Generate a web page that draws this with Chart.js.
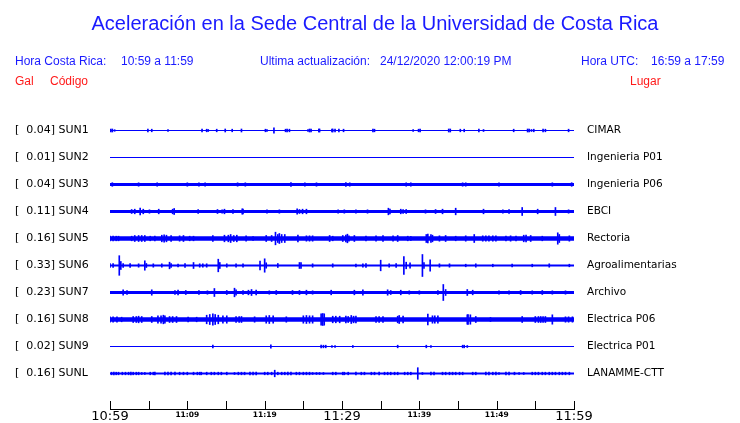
<!DOCTYPE html>
<html>
<head>
<meta charset="utf-8">
<script src="https://cdn.jsdelivr.net/npm/chart.js@4/dist/chart.umd.min.js"></script>
<style>
  body { margin: 0; background: #fff; }
  #wrap { position: relative; width: 740px; height: 423px; }
  #chart { position: absolute; left: 0; top: 0; }
  .txt { position: absolute; font-family: "Liberation Sans", Arial, sans-serif; font-size: 12px; line-height: 14px; white-space: pre; color: #1a1aff; }
  .red { color: #ff1a1a; }
  #title { left: 0; width: 750px; top: 11px; text-align: center; font-size: 20px; line-height: 24px; }
</style>
</head>
<body>
<div id="wrap">
  <canvas id="chart" width="740" height="423"></canvas>
  <div class="txt" id="title">Aceleración en la Sede Central de la Universidad de Costa Rica</div>
  <div class="txt" style="left:15px;top:54px">Hora Costa Rica:</div>
  <div class="txt" style="left:121px;top:54px">10:59 a 11:59</div>
  <div class="txt" style="left:260px;top:54px">Ultima actualización:</div>
  <div class="txt" style="left:380px;top:54px">24/12/2020 12:00:19 PM</div>
  <div class="txt" style="left:581px;top:54px">Hora UTC:</div>
  <div class="txt" style="left:651px;top:54px">16:59 a 17:59</div>
  <div class="txt red" style="left:15px;top:74px">Gal</div>
  <div class="txt red" style="left:50px;top:74px">Código</div>
  <div class="txt red" style="left:630px;top:74px">Lugar</div>
</div>
<script>
// stations, top to bottom
const stations = ['SUN1', 'SUN2', 'SUN3', 'SUN4', 'SUN5', 'SUN6', 'SUN7', 'SUN8', 'SUN9', 'SUNL'];
const peakGal = [0.04, 0.01, 0.04, 0.11, 0.16, 0.33, 0.23, 0.16, 0.02, 0.16];
const places = ['CIMAR', 'Ingenieria P01', 'Ingenieria P06', 'EBCI', 'Rectoria', 'Agroalimentarias', 'Archivo', 'Electrica P06', 'Electrica P01', 'LANAMME-CTT'];
const tickLabels = ['10:59', '11:09', '11:19', '11:29', '11:39', '11:49', '11:59'];

// background noise level of each trace (half amplitude)
const noiseLevel = [0.6, 0.5, 1.5, 1.4, 2.3, 1.1, 1.5, 2.3, 0.5, 0.9];

// bursts: [minute after 10:59, half amplitude]
const sun1 = [[0.1,1.5],[0.3,1.5],[0.6,0.8],[4.9,1.3],[5.4,1.3],[7.5,0.8],[11.9,1.3],[12.5,1.3],[12.7,1],[13.8,1.3],[14.9,1.5],[15.8,1.3],[17.0,1.5],[20.1,1.3],[20.3,1],[21.2,2.7],[22.7,1.3],[22.9,1.3],[23.2,1.3],[25.6,1],[25.8,1.5],[26.0,1.5],[27.0,1.5],[27.1,1.5],[28.7,1.5],[28.8,1.5],[29.1,1.3],[29.6,1.3],[30.2,1.3],[34.0,1.5],[34.2,1.3],[39.2,1],[39.9,1.3],[40.1,1.3],[43.8,1.5],[44.0,1.5],[45.3,1.3],[45.8,1.3],[47.7,1.3],[48.3,1],[52.2,1.3],[54.0,1.5],[54.2,1.5],[54.5,1],[54.8,1.3],[56.0,1.3],[56.3,1.3],[59.3,1.3]];
const sun2 = [];
const sun3 = [[0.3,1.8],[3.7,1.7],[6.1,1.7],[10.0,1.7],[11.5,1.7],[12.3,1.7],[16.5,1.7],[17.5,1.7],[23.4,1.8],[25.2,1.7],[26.7,1.7],[30.5,1.8],[31.0,1.7],[38.3,1.7],[38.9,1.7],[45.6,1.7],[46.0,1.7],[50.3,1.7],[57.2,1.7],[59.7,1.8]];
const sun4 = [[2.8,2],[3.2,2.3],[3.9,3.3],[4.3,2.3],[5.1,1.7],[6.3,2.3],[8.1,2.3],[8.3,3],[11.4,2],[13.9,2],[14.5,1.7],[14.8,2.3],[15.9,2],[17.1,2.7],[17.2,2.3],[20.3,1.7],[21.9,1.7],[24.2,2.7],[24.5,2],[24.9,2.3],[25.4,2.3],[29.5,1.7],[30.3,1.7],[31.8,1.7],[33.3,1.7],[36.0,3.3],[36.2,2.3],[37.6,2.3],[37.9,2],[38.3,2],[40.8,1.7],[42.1,2],[43.0,2.3],[44.7,3.3],[48.3,2.3],[50.8,1.7],[51.6,2],[53.3,4],[55.3,2.3],[57.6,4],[59.3,1.7]];
const sun5 = [[0,2.3],[0.4,2.3],[0.8,2.3],[1.1,2.3],[2.8,2.3],[3.2,3],[3.7,3],[4.1,3],[4.5,3],[5.2,2.3],[5.8,2.3],[6.7,3.3],[7.0,3.7],[7.3,3.3],[7.9,3],[9.0,2.7],[9.5,3],[10.3,2.3],[10.8,2.3],[13.3,3],[14.8,3.3],[15.3,3.3],[15.6,4],[16.0,3],[16.4,3.3],[17.6,2.7],[18.5,2],[20.2,3],[20.9,3],[21.4,6.3],[21.7,4],[21.9,5],[22.2,4],[22.6,4],[24.3,3.3],[25.4,2.7],[25.8,2.7],[26.2,2.7],[28.4,3],[28.8,2.3],[30.1,3],[30.5,3.3],[30.7,4.3],[30.9,2.7],[31.6,3],[33.1,2.3],[34.4,2.7],[35.3,3],[36.6,2.7],[37.2,3],[38.5,2.3],[38.9,2],[40.9,4],[41.1,4.3],[41.5,4],[41.7,3.3],[42.6,2.7],[43.4,3],[44.7,2.3],[46.0,2.7],[47.1,4],[48.2,2.7],[48.6,2.7],[49.0,2.7],[49.5,2.7],[49.9,2.7],[51.2,2.3],[51.8,2.7],[52.5,2.3],[53.5,3.3],[53.8,3.3],[54.4,3],[55.9,2.3],[57.9,5.7],[58.1,4],[59.4,2.7]];
const sun6 = [[0,2],[0.4,2],[1.2,9.8],[1.4,4],[1.7,2],[2.6,2],[3.7,1.7],[4.5,4.7],[4.7,2],[5.6,1.7],[6.7,1.7],[7.7,3.3],[7.9,2],[8.8,1.3],[9.7,2],[10.8,3],[11.6,1.7],[12.0,1.7],[12.5,1.7],[14.0,6.3],[14.2,3],[15.1,1.7],[16.3,1.7],[17.2,1.7],[19.4,4.3],[20.0,6.7],[20.2,2.7],[21.7,2],[24.5,3],[24.7,3],[26.2,1.7],[28.8,1.7],[31.8,1.3],[32.7,1.7],[33.1,2],[35.0,5.3],[36.1,1.7],[37.0,2],[38.0,9],[38.3,3.3],[38.8,2.7],[40.4,11],[40.6,3],[41.4,5.7],[42.6,1.7],[43.9,1.7],[46.0,1.3],[47.3,1.7],[49.5,1.3],[52.0,1.3],[54.6,1.3],[56.8,1.7],[59.4,1.3]];
const sun7 = [[1.7,2.7],[2.2,2],[5.4,2.7],[8.4,2],[8.8,2.3],[9.8,2],[11.5,2],[12.6,1.7],[13.5,4],[15.1,2],[16.1,4.3],[16.3,2.7],[17.2,2],[17.9,2.3],[18.3,3],[18.9,2.3],[20.6,1.7],[21.5,2],[23.6,2],[24.5,2],[25.4,2.3],[26.2,1.7],[28.6,2.3],[31.6,2.3],[32.7,2.7],[35.9,2.7],[36.3,2],[37.6,2.3],[38.7,1.7],[40.0,1.7],[42.4,2],[43.1,8],[43.4,3],[46.2,3],[46.9,2.3],[50.3,1.7],[51.6,1.7],[53.1,2],[54.6,1.7],[55.9,2],[57.2,1.7],[58.9,1.7]];
const sun8 = [[0,2.7],[0.4,2.7],[0.9,2.7],[1.5,2.3],[3.0,3],[3.4,3],[3.7,3.3],[4.1,3],[5.4,3],[6.2,3.7],[6.6,3.7],[6.9,4.3],[7.1,3.7],[7.7,3],[8.1,3],[8.6,3],[10.1,2.3],[11.2,2.3],[12.5,4.3],[12.9,5],[13.3,5.7],[13.6,5],[14.0,4.3],[14.6,3.7],[15.1,3.7],[16.3,3],[16.7,3],[17.0,3],[18.7,2.7],[20.2,3.7],[20.6,4],[21.1,3.7],[22.8,2.7],[25.0,3.7],[25.4,4],[25.8,3.7],[26.2,3.7],[27.3,5.7],[27.5,6],[27.7,5.7],[28.8,3.3],[29.2,3.3],[29.7,3.3],[30.5,3.3],[30.8,3],[31.2,4],[31.5,3.3],[31.8,3.3],[34.4,3],[34.8,3],[35.3,3],[37.2,3.3],[37.4,4],[37.9,3.3],[41.1,5.3],[41.7,3.7],[42.0,3.7],[42.4,3.7],[46.2,4.7],[46.3,5],[46.6,4.7],[47.3,3],[49.2,2],[53.3,3],[55.0,3],[55.4,3],[55.7,3],[56.0,3],[56.3,3],[57.2,4.7],[58.9,2.7],[59.3,2.7],[59.8,2.7]];
const sun9 = [[13.3,1.3],[20.8,1.7],[27.3,1.3],[27.6,1.3],[27.9,1.3],[28.7,1],[29.1,1],[31.4,1],[37.2,1.3],[40.9,1.3],[41.5,1],[45.6,1.3],[45.8,1.3],[46.2,1]];
const sunL = [[0.2,1.3],[0.5,1.3],[0.8,1.3],[1.1,1.3],[1.6,1.3],[2.0,1.3],[2.4,1.3],[2.7,1.3],[3.0,1.3],[3.4,1.3],[3.7,1.3],[4.1,1],[4.5,1],[5.2,1.3],[5.6,1.3],[5.8,1.3],[7.1,1.3],[7.5,1.3],[7.9,1.3],[8.4,1.3],[9.0,1.3],[9.5,1.3],[10.0,1.3],[10.8,1.3],[11.3,1.3],[11.6,1.3],[11.8,1.3],[12.5,1.3],[13.1,1.3],[13.5,1.3],[14.0,1.3],[14.4,1.3],[15.1,1.3],[16.1,1],[16.6,1.3],[17.0,1.3],[17.4,1.3],[18.1,1.3],[18.5,1.3],[18.9,1.3],[20.0,1.3],[20.4,1.3],[20.9,1.3],[21.3,3.3],[21.7,1.3],[22.2,1.3],[22.6,1.3],[23.0,1.3],[23.4,1.3],[24.1,1.3],[24.5,1.3],[25.0,1.3],[25.4,1.3],[25.8,1.3],[26.2,1],[26.7,1],[27.1,1],[27.6,1],[28.8,1.3],[29.2,1.3],[30.1,1.3],[30.3,1.3],[30.8,1.3],[31.8,1.3],[32.5,1.3],[32.9,1.3],[33.8,1.3],[34.2,1.3],[34.8,1.3],[35.5,1.3],[35.9,1.3],[36.3,1.3],[36.8,1.3],[37.2,1.3],[38.1,1.3],[38.5,1.3],[38.9,1.3],[39.8,5.8],[40.4,1],[41.5,1.3],[41.9,1.3],[43.0,1.3],[43.4,1.3],[43.9,1.3],[44.3,1.3],[44.7,1.3],[45.2,1.3],[45.6,1.3],[46.9,1.3],[47.3,1.3],[48.6,1.3],[49.0,1.3],[49.5,1.3],[49.9,1.3],[50.3,1],[51.2,1.3],[51.6,1.3],[52.3,1.3],[52.9,1],[53.5,1],[54.6,1.3],[55.0,1.3],[55.4,1.3],[55.9,1.3],[56.3,1.3],[56.8,1.3],[57.2,1.3],[57.6,1.3],[58.1,1.3],[58.5,1.3],[58.9,1.3],[59.4,1.3]];
const bursts = [sun1, sun2, sun3, sun4, sun5, sun6, sun7, sun8, sun9, sunL];

const BLUE = '#0000ff';
const rowGap = 27;       // trace separation, same units as amplitude
const axisGap = 36;      // last trace to time axis
const spanMin = 60;

Chart.defaults.font.family = 'DejaVu Sans';

const datasets = [];
stations.forEach((s, i) => {
  const row = i * rowGap;
  datasets.push({
    type: 'line',
    data: [{ x: 0, y: row }, { x: spanMin, y: row }],
    borderColor: BLUE,
    borderWidth: noiseLevel[i] * 2,
    borderCapStyle: 'butt',
    pointRadius: 0,
  });
});
datasets.push({
  type: 'bar',
  data: bursts.flatMap((set, i) => set.map(([t, a]) => ({ x: t, y: [i * rowGap - a, i * rowGap + a] }))),
  backgroundColor: BLUE,
  borderWidth: 0,
  barThickness: 1,
});

const rowTicks = (scale) => { scale.ticks = stations.map((s, i) => ({ value: i * rowGap })); };
const yMin = -rowGap - 0.5;
const yMax = (stations.length - 1) * rowGap + axisGap - 0.5;

// small tick marks pointing up from the time axis
const upTicks = {
  id: 'upTicks',
  afterDraw(chart) {
    const xs = chart.scales.x;
    const c = chart.ctx;
    c.save();
    c.strokeStyle = '#000';
    c.lineWidth = 1;
    c.beginPath();
    xs.ticks.forEach((t) => {
      const px = Math.round(xs.getPixelForValue(t.value)) + 0.5;
      c.moveTo(px, xs.top);
      c.lineTo(px, xs.top - 8);
    });
    c.stroke();
    c.restore();
  },
};

new Chart(document.getElementById('chart').getContext('2d'), {
  type: 'bar',
  data: { datasets },
  plugins: [upTicks],
  options: {
    responsive: false,
    animation: false,
    devicePixelRatio: 1,
    layout: { padding: { top: 103, left: 15, right: 0, bottom: 0 } },
    plugins: { legend: { display: false }, tooltip: { enabled: false } },
    scales: {
      x: {
        type: 'linear',
        min: 0,
        max: spanMin,
        offset: false,
        grid: { display: false, drawTicks: false },
        border: { display: true, color: '#000', width: 1 },
        ticks: {
          stepSize: 5,
          autoSkip: false,
          maxRotation: 0,
          padding: 0,
          color: '#000',
          callback: (v) => (v % 10 === 0 ? tickLabels[v / 10] : ''),
          font: (c) => (c.tick && c.tick.value % 30 === 0
            ? { family: 'DejaVu Sans', size: 13, lineHeight: 1.2 }
            : { family: 'DejaVu Sans', size: 7.5, weight: 'bold', lineHeight: 1.6 }),
        },
        afterFit: (s) => { s.height = 14; },
      },
      y: {
        type: 'linear',
        position: 'left',
        reverse: true,
        min: yMin,
        max: yMax,
        grid: { display: false, drawTicks: false },
        border: { display: false },
        afterBuildTicks: rowTicks,
        ticks: {
          crossAlign: 'far',
          color: '#000',
          font: { size: 11 },
          callback: (v, i) => '[  ' + peakGal[i].toFixed(2) + '] ' + stations[i],
        },
        afterFit: (s) => { s.width = 95; },
      },
      y2: {
        type: 'linear',
        position: 'right',
        reverse: true,
        min: yMin,
        max: yMax,
        grid: { display: false, drawTicks: true, tickLength: 10 },
        border: { display: false },
        afterBuildTicks: rowTicks,
        ticks: {
          crossAlign: 'near',
          padding: 3,
          color: '#000',
          font: { size: 10.5 },
          callback: (v, i) => places[i],
        },
        afterFit: (s) => { s.width = 166; },
      },
    },
  },
});
</script>
</body>
</html>
